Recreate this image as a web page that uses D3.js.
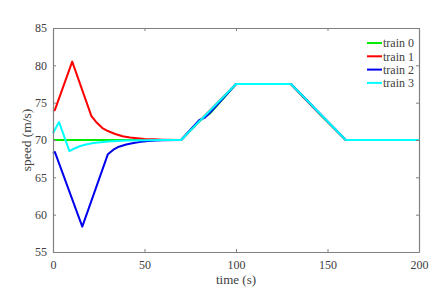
<!DOCTYPE html>
<html>
<head>
<meta charset="utf-8">
<script src="https://cdn.jsdelivr.net/npm/d3@7"></script>
<style>
  body { margin: 0; background: #fff; }
  text { font-family: "Liberation Serif", "Times New Roman", serif; fill: #404040; }
</style>
</head>
<body>
<svg id="chart"></svg>
<script>
// time / speed samples
const names = ["train 0", "train 1", "train 2", "train 3"];
const colors = ["#00ee00", "#ff0000", "#0000ee", "#00ffff"];

const t0 = [0, 70, 80, 83, 86, 100, 130, 140, 143, 146, 160, 200];
const v0 = [70, 70, 72.5, 73.1, 73.6, 77.5, 77.5, 75.0, 74.2, 73.4, 70, 70];

const t1 = [0, 1, 10.5, 21, 24, 27, 30, 34, 38, 42, 46, 50, 55, 60, 70, 100, 130, 142, 160, 200];
const v1 = [73.9, 74.0, 80.5, 73.2, 72.3, 71.6, 71.2, 70.8, 70.5, 70.35, 70.25, 70.15, 70.1, 70.05, 70, 77.5, 77.5, 74.4, 70, 70];

const t2 = [0, 1, 16, 30, 33, 36, 40, 44, 48, 52, 56, 60, 70, 80, 83, 86, 100, 130, 160, 200];
const v2 = [68.2, 68.4, 58.4, 68.1, 68.7, 69.1, 69.4, 69.6, 69.75, 69.85, 69.92, 69.96, 70, 72.7, 73.0, 73.7, 77.5, 77.5, 70, 70];

const t3 = [0, 3.3, 9, 12, 15, 18, 22, 26, 30, 35, 40, 50, 60, 70, 100, 130, 160, 200];
const v3 = [70.9, 72.4, 68.5, 68.9, 69.2, 69.4, 69.6, 69.7, 69.8, 69.88, 69.93, 69.97, 69.99, 70, 77.5, 77.5, 70, 70];

const xTicks = [0, 50, 100, 150, 200];
const yTicks = [55, 60, 65, 70, 75, 80, 85];

const series = [[t0, v0], [t1, v1], [t2, v2], [t3, v3]].map((s, i) => ({
  name: names[i],
  color: colors[i],
  pts: s[0].map((t, j) => [t, s[1][j]])
}));

const W = 443, H = 293;
const m = { left: 53, right: 24, top: 28, bottom: 41 };
const svg = d3.select("#chart").attr("width", W).attr("height", H);

const x = d3.scaleLinear().domain([0, 200]).range([m.left, W - m.right]);
const y = d3.scaleLinear().domain([55, 85]).range([H - m.bottom, m.top]);

const axisColor = "#808080";

// lines first, box drawn on top
const line = d3.line().x(d => x(d[0])).y(d => y(d[1]));
svg.append("g")
  .selectAll("path")
  .data(series)
  .join("path")
  .attr("d", d => line(d.pts))
  .attr("fill", "none")
  .attr("stroke", d => d.color)
  .attr("stroke-width", 2)
  .attr("stroke-linejoin", "round");

function styleAxis(g, hideText) {
  g.select(".domain").attr("stroke", axisColor).attr("stroke-width", 1.2);
  g.selectAll(".tick line").attr("stroke", axisColor);
  g.selectAll(".tick text")
    .style("font-family", '"Liberation Serif", serif')
    .style("font-size", "12px")
    .attr("fill", "#404040");
  if (hideText) g.selectAll(".tick text").remove();
}

svg.append("g")
  .attr("transform", `translate(0,${H - m.bottom})`)
  .call(d3.axisBottom(x).tickValues(xTicks).tickSizeInner(-3).tickSizeOuter(0).tickPadding(8))
  .call(g => styleAxis(g, false));

svg.append("g")
  .attr("transform", `translate(0,${m.top})`)
  .call(d3.axisTop(x).tickValues(xTicks).tickSizeInner(-3).tickSizeOuter(0))
  .call(g => styleAxis(g, true));

svg.append("g")
  .attr("transform", `translate(${m.left},0)`)
  .call(d3.axisLeft(y).tickValues(yTicks).tickSizeInner(-3).tickSizeOuter(0).tickPadding(6))
  .call(g => styleAxis(g, false));

svg.append("g")
  .attr("transform", `translate(${W - m.right},0)`)
  .call(d3.axisRight(y).tickValues(yTicks).tickSizeInner(-3).tickSizeOuter(0))
  .call(g => styleAxis(g, true));

// axis titles
svg.append("text")
  .attr("x", (m.left + W - m.right) / 2)
  .attr("y", H - 9)
  .attr("text-anchor", "middle")
  .style("font-size", "13px")
  .text("time (s)");

svg.append("text")
  .attr("transform", `translate(31,${(m.top + H - m.bottom) / 2}) rotate(-90)`)
  .attr("text-anchor", "middle")
  .style("font-size", "13.5px")
  .text("speed (m/s)");

// legend
const lg = svg.append("g").attr("transform", "translate(367,43)");
const row = lg.selectAll("g")
  .data(series)
  .join("g")
  .attr("transform", (d, i) => `translate(0,${i * 13.3})`);
row.append("line")
  .attr("x1", 0).attr("x2", 15)
  .attr("stroke", d => d.color)
  .attr("stroke-width", 2);
row.append("text")
  .attr("x", 16)
  .attr("dy", "0.35em")
  .style("font-size", "12px")
  .text(d => d.name);
</script>
</body>
</html>
